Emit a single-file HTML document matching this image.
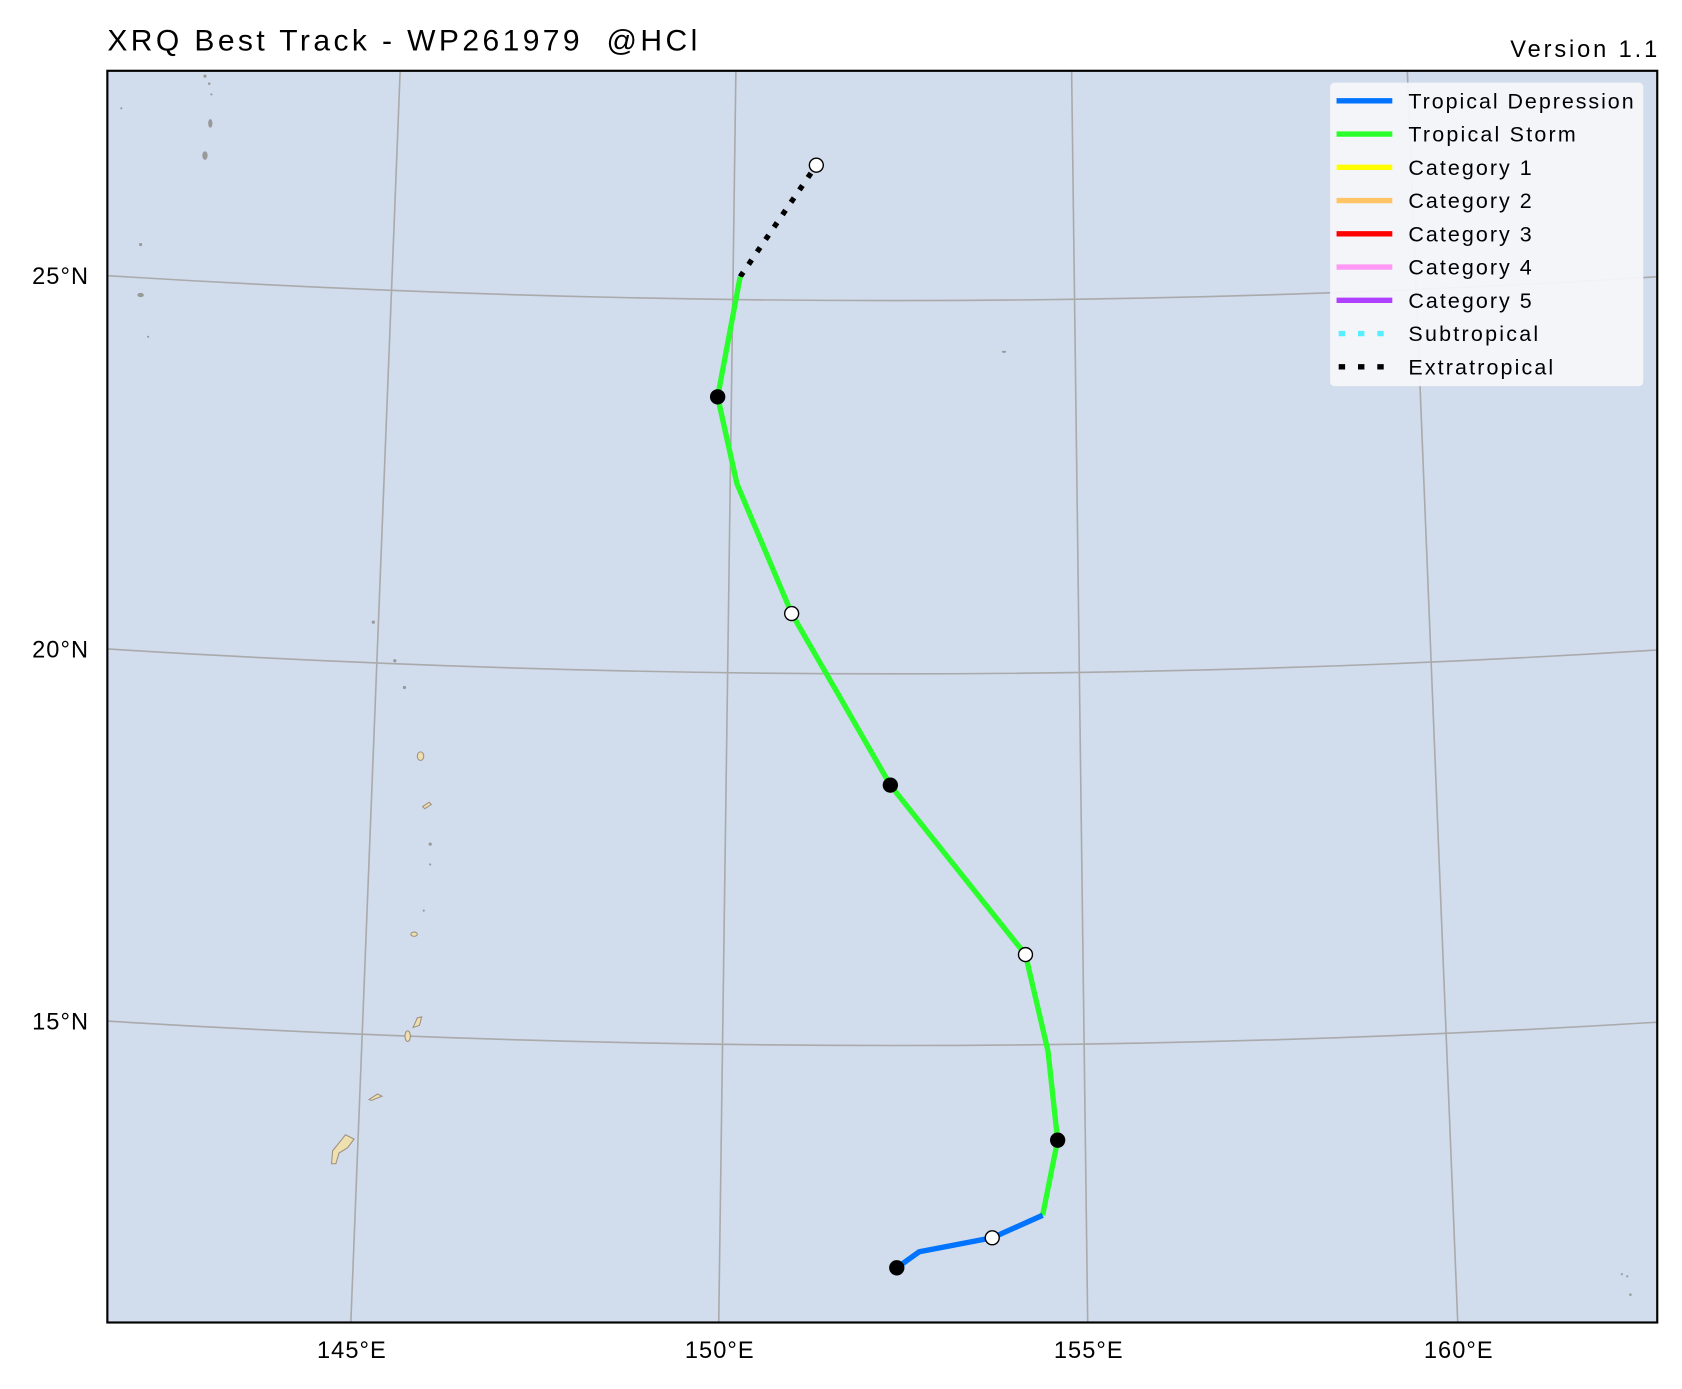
<!DOCTYPE html>
<html><head><meta charset="utf-8"><style>
html,body{margin:0;padding:0;background:#fff}
svg{display:block}
text{font-family:"Liberation Sans",sans-serif;fill:#000}
</style></head><body>
<svg width="1682" height="1389" viewBox="0 0 1568 1295" xmlns="http://www.w3.org/2000/svg">
<rect width="1568" height="1295" fill="#fff"/>
<text x="100" y="47" font-size="28" xml:space="preserve" textLength="550" lengthAdjust="spacing">XRQ Best Track - WP261979  @HCl</text>
<text x="1408" y="53" font-size="22" textLength="137" lengthAdjust="spacing">Version 1.1</text>
<rect x="100" y="66" width="1445" height="1167" fill="#d1dced"/>
<g stroke="#aaaaaa" stroke-width="1.5" fill="none">
<path d="M100,257 Q830,303 1545,258"/>
<path d="M100,605 Q830,651 1545,606"/>
<path d="M100,952 Q830,997 1545,953"/>
<path d="M373,66 L327,1233"/>
<path d="M686,66 L670,1233"/>
<path d="M999,66 L1014,1233"/>
<path d="M1312,66 L1359,1233"/>
</g>
<g fill="#999">
<circle cx="191" cy="71" r="1.5"/><circle cx="195" cy="78" r="1.2"/><circle cx="197" cy="88" r="1"/>
<ellipse cx="196" cy="115" rx="2" ry="4"/><ellipse cx="191" cy="145" rx="2.5" ry="4"/>
<circle cx="113" cy="101" r="1"/><circle cx="131" cy="228" r="1.5"/><ellipse cx="131" cy="275" rx="3" ry="2"/>
<circle cx="138" cy="314" r="1"/><circle cx="348" cy="580" r="1.5"/><circle cx="368" cy="616" r="1.5"/>
<circle cx="377" cy="641" r="1.5"/><circle cx="401" cy="787" r="1.5"/><circle cx="401" cy="806" r="1"/>
<circle cx="395" cy="849" r="1"/><ellipse cx="936" cy="328" rx="2" ry="1"/>
<circle cx="1512" cy="1188" r="1"/><circle cx="1517" cy="1190" r="1"/><circle cx="1520" cy="1207" r="1.2"/>
</g>
<g fill="#efe0b0" stroke="#a09080" stroke-width="1">
<ellipse cx="392" cy="705" rx="3" ry="4"/><path d="M394,752 l6,-4 l2,2 l-6,4z"/>
<ellipse cx="386" cy="871" rx="3" ry="2"/><path d="M385,958 l4,-9 l4,-1 l-2,8z"/>
<ellipse cx="380" cy="966" rx="2.5" ry="5"/><path d="M344,1025 l8,-5 l4,2 l-10,4z"/>
<path d="M309,1085 l1,-12 l12,-15 l8,4 l-6,8 l-8,5 l-3,10z"/>
</g>
<polyline points="690,258 761,154" fill="none" stroke="#000" stroke-width="5" stroke-dasharray="5,9"/>
<polyline points="690,258 669,370 687,451 738,572 783,650 830,732 956,890 977,980 986,1063 972,1133" fill="none" stroke="#2bff2b" stroke-width="5" stroke-linejoin="round"/>
<polyline points="972,1133 925,1154 857,1167 836,1182" fill="none" stroke="#0073ff" stroke-width="5" stroke-linejoin="round"/>
<g stroke="#000" stroke-width="1.3">
<circle cx="669" cy="370" r="6.5" fill="#000"/><circle cx="830" cy="732" r="6.5" fill="#000"/>
<circle cx="986" cy="1063" r="6.5" fill="#000"/><circle cx="836" cy="1182" r="6.5" fill="#000"/>
<circle cx="761" cy="154" r="6.5" fill="#fff"/><circle cx="738" cy="572" r="6.5" fill="#fff"/>
<circle cx="956" cy="890" r="6.5" fill="#fff"/><circle cx="925" cy="1154" r="6.5" fill="#fff"/>
</g>
<rect x="1240" y="77" width="292" height="283" rx="4" fill="#f5f6fa" fill-opacity="0.95"/>
<g stroke-width="5">
<line x1="1246" y1="94" x2="1298" y2="94" stroke="#0073ff"/>
<line x1="1246" y1="125" x2="1298" y2="125" stroke="#2bff2b"/>
<line x1="1246" y1="156" x2="1298" y2="156" stroke="#ffff00"/>
<line x1="1246" y1="187" x2="1298" y2="187" stroke="#ffc466"/>
<line x1="1246" y1="218" x2="1298" y2="218" stroke="#ff0000"/>
<line x1="1246" y1="249" x2="1298" y2="249" stroke="#ff99f5"/>
<line x1="1246" y1="280" x2="1298" y2="280" stroke="#b040ff"/>
<line x1="1248" y1="311" x2="1298" y2="311" stroke="#55f0ff" stroke-dasharray="6,12"/>
<line x1="1248" y1="342" x2="1298" y2="342" stroke="#000" stroke-dasharray="6,12"/>
</g>
<g font-size="20" lengthAdjust="spacing">
<text x="1313" y="101" textLength="210">Tropical Depression</text>
<text x="1313" y="132" textLength="156">Tropical Storm</text>
<text x="1313" y="163" textLength="115">Category 1</text>
<text x="1313" y="194" textLength="115">Category 2</text>
<text x="1313" y="225" textLength="115">Category 3</text>
<text x="1313" y="256" textLength="115">Category 4</text>
<text x="1313" y="287" textLength="115">Category 5</text>
<text x="1313" y="318" textLength="121">Subtropical</text>
<text x="1313" y="349" textLength="135">Extratropical</text>
</g>
<rect x="100" y="66" width="1445" height="1167" fill="none" stroke="#000" stroke-width="2"/>
<g font-size="22" letter-spacing="1">
<text x="83" y="265" text-anchor="end">25°N</text>
<text x="83" y="613" text-anchor="end">20°N</text>
<text x="83" y="960" text-anchor="end">15°N</text>
<text x="328" y="1266" text-anchor="middle">145°E</text>
<text x="671" y="1266" text-anchor="middle">150°E</text>
<text x="1015" y="1266" text-anchor="middle">155°E</text>
<text x="1360" y="1266" text-anchor="middle">160°E</text>
</g>
</svg>
</body></html>
